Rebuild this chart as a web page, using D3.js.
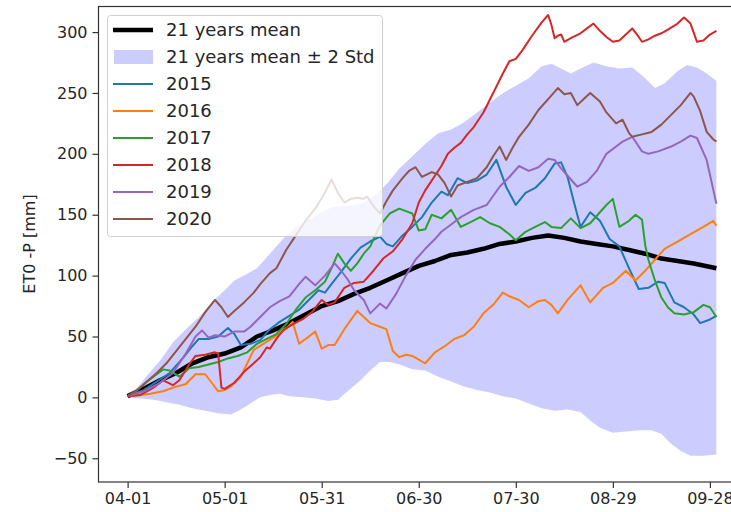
<!DOCTYPE html>
<html>
<head>
<meta charset="utf-8">
<script src="https://cdn.jsdelivr.net/npm/d3@7"></script>
<style>
  body { margin: 0; background: #fff; }
  text { font-family: "DejaVu Sans", sans-serif; fill: #262626; }
</style>
</head>
<body>
<div id="chart"></div>
<script>
// values, [days since 04-01, mm]
const tickLabels = ["04-01", "05-01", "05-31", "06-30", "07-30", "08-29", "09-28"];
const yTicks = [-50, 0, 50, 100, 150, 200, 250, 300];
const years = ["2015", "2016", "2017", "2018", "2019", "2020"];
const yearColors = ["#1f77b4", "#ff7f0e", "#2ca02c", "#d62728", "#9467bd", "#8c564b"];

const mean = [[0,1],[5,7],[10,14],[15,20],[20,28],[25,33],[30,36],[35,41],[40,50],[45,55],[50,61],[55,68],[60,75],[65,79],[70,85],[75,90],[80,96],[85,102],[90,108],[95,112],[100,117],[105,119],[110,122],[115,126],[120,128],[125,131],[130,133],[135,131],[140,128],[145,126],[150,124],[155,121],[160,118],[165,114],[170,112],[175,110],[182,106]];

const upper = [[0,3],[3,8],[6,18],[10,30],[14,45],[18,56],[22,66],[26,78],[30,88],[33,96],[36,100],[40,106],[44,118],[48,130],[52,140],[56,146],[60,152],[63,156],[66,157],[70,158],[73,160],[76,165],[80,175],[84,188],[88,198],[92,208],[96,217],[100,220],[104,226],[108,234],[112,242],[116,250],[120,256],[124,262],[128,272],[131,274],[134,270],[137,266],[140,270],[144,275],[148,272],[152,270],[156,271],[160,262],[163,254],[166,258],[170,268],[173,273],[176,271],[179,266],[182,260]];

const lower = [[0,0],[4,-1],[8,-2],[12,-4],[16,-6],[20,-9],[24,-11],[28,-13],[32,-14],[35,-10],[38,-5],[41,0],[44,2],[47,3],[50,1],[54,0],[58,-1],[62,-3],[65,-2],[68,5],[72,14],[75,22],[78,29],[81,29],[84,27],[88,23],[92,22],[96,17],[100,13],[104,9],[108,6],[112,4],[116,1],[120,-1],[124,-5],[128,-9],[132,-11],[136,-10],[140,-12],[143,-19],[146,-25],[150,-29],[154,-28],[158,-27],[162,-27],[165,-30],[168,-38],[171,-44],[174,-48],[178,-48],[182,-47]];

const y2015 = [[0,1],[5,6],[9,13],[13,20],[17,32],[20,42],[22,48],[25,48],[28,50],[31,57],[33,52],[35,43],[38,44],[41,47],[44,56],[47,62],[50,67],[53,72],[56,80],[59,88],[61,86],[63,93],[66,103],[69,114],[72,123],[75,128],[78,132],[80,126],[82,124],[85,133],[88,140],[91,148],[94,160],[97,169],[99,166],[102,180],[105,176],[108,178],[111,183],[114,195],[117,173],[120,158],[123,168],[126,172],[129,180],[132,192],[134,193],[136,181],[138,160],[140,140],[143,152],[146,145],[149,130],[152,124],[155,106],[158,89],[161,90],[164,95],[166,94],[169,78],[172,74],[175,68],[177,61],[180,64],[182,67]];

const y2016 = [[0,1],[4,2],[7,3],[11,5],[14,8],[18,11],[21,19],[24,19],[26,12],[28,5],[30,6],[32,9],[35,17],[37,28],[39,39],[42,44],[45,49],[48,54],[51,62],[53,44],[55,48],[58,54],[60,40],[62,43],[64,43],[67,56],[71,71],[73,66],[75,61],[78,58],[80,56],[82,38],[84,33],[86,35],[88,34],[90,31],[92,28],[95,37],[98,42],[101,48],[104,51],[107,58],[110,69],[113,76],[116,86],[118,83],[121,80],[124,74],[127,79],[129,80],[131,76],[133,69],[136,80],[140,92],[143,78],[147,90],[150,94],[154,104],[157,96],[160,104],[163,113],[166,122],[170,128],[174,134],[178,140],[181,145],[182,141]];

const y2017 = [[0,1],[3,6],[6,13],[9,19],[11,23],[13,22],[16,17],[19,24],[22,25],[25,27],[28,29],[31,32],[34,34],[37,37],[40,44],[43,48],[46,52],[49,60],[52,72],[55,82],[58,88],[61,95],[63,106],[65,118],[67,110],[69,104],[71,110],[73,118],[75,124],[78,141],[81,151],[84,155],[86,153],[88,151],[90,137],[92,138],[94,150],[97,147],[100,154],[103,140],[106,144],[109,148],[112,143],[115,140],[118,134],[120,129],[123,136],[126,140],[129,144],[131,140],[134,139],[137,147],[140,139],[143,143],[146,152],[148,158],[150,163],[152,140],[155,145],[157,150],[159,146],[160,125],[161,113],[163,96],[165,82],[167,74],[169,69],[172,68],[175,70],[178,76],[180,74],[182,66]];

const y2018 = [[0,1],[4,2],[8,8],[11,14],[14,10],[16,14],[19,27],[21,34],[24,35],[27,37],[28,36],[29,8],[30,7],[33,12],[36,21],[39,28],[41,33],[43,41],[44,40],[46,48],[48,55],[51,60],[54,64],[57,70],[60,80],[62,76],[64,78],[67,90],[70,94],[73,95],[76,104],[79,114],[82,120],[85,130],[88,143],[90,160],[92,170],[95,182],[97,190],[99,200],[101,205],[103,209],[105,216],[107,222],[110,234],[113,250],[116,266],[118,276],[120,278],[122,285],[125,297],[128,308],[130,314],[131,306],[132,295],[133,297],[134,298],[135,292],[137,295],[140,299],[142,303],[144,307],[146,301],[148,296],[150,292],[152,293],[154,298],[156,303],[158,296],[159,292],[161,294],[163,297],[165,299],[167,302],[170,307],[172,312],[174,307],[176,292],[178,293],[180,298],[182,301]];

const y2019 = [[0,1],[5,5],[10,12],[14,20],[18,36],[21,50],[23,55],[25,49],[27,51],[30,50],[33,54],[36,54],[38,58],[41,66],[44,74],[47,79],[50,83],[53,93],[55,99],[58,92],[61,100],[64,110],[66,104],[68,97],[70,88],[73,80],[75,69],[78,77],[80,73],[83,85],[86,100],[89,113],[92,122],[95,130],[97,136],[100,142],[103,148],[107,154],[111,158],[115,173],[118,181],[121,190],[124,186],[127,189],[130,196],[132,195],[134,188],[136,182],[139,173],[142,177],[145,186],[148,200],[151,206],[153,210],[156,214],[159,202],[161,200],[164,202],[168,206],[171,210],[174,215],[176,213],[179,195],[182,159]];

const y2020 = [[0,1],[3,6],[6,13],[9,20],[12,28],[15,38],[18,48],[21,58],[24,70],[27,80],[29,74],[31,66],[33,71],[36,78],[39,86],[41,93],[44,102],[46,106],[49,121],[52,133],[55,145],[58,155],[61,168],[63,179],[65,168],[67,160],[69,163],[71,164],[73,163],[74,165],[76,157],[78,151],[80,161],[82,170],[85,180],[87,186],[89,189],[91,181],[94,185],[96,183],[98,176],[100,165],[102,174],[105,177],[108,180],[111,189],[113,198],[115,206],[117,195],[119,205],[121,214],[124,224],[127,236],[130,245],[133,254],[135,249],[137,250],[139,240],[141,245],[143,250],[146,243],[148,234],[151,225],[153,228],[155,217],[156,214],[159,216],[162,218],[165,224],[168,232],[171,240],[174,250],[175,247],[177,235],[179,218],[181,212],[182,210]];

const yearSeries = [y2015, y2016, y2017, y2018, y2019, y2020];

const width = 731, height = 512;
const start = new Date(2021, 3, 1);
const dayDate = d => d3.timeDay.offset(start, d);
const parseTick = d3.timeParse("%Y-%m-%d");

const svg = d3.select("#chart").append("svg")
  .attr("width", width)
  .attr("height", height);

// matplotlib keeps a 5% margin round the data
const x = d3.scaleTime()
  .domain([d3.timeDay.offset(start, -9), d3.timeDay.offset(start, 191)])
  .range([98.5, 745.5]);

const y = d3.scaleLinear()
  .domain([-69.5, 321])
  .range([482, 6.5]);

const line = d3.line()
  .x(d => x(dayDate(d[0])))
  .y(d => y(d[1]));

// band: upper edge forward, lower edge back
svg.append("path")
  .attr("d", line(upper.concat(lower.slice().reverse())) + "Z")
  .attr("fill", "#0000ff")
  .attr("fill-opacity", 0.2)
  .attr("stroke", "none");

svg.append("path")
  .attr("d", line(mean))
  .attr("fill", "none")
  .attr("stroke", "#000")
  .attr("stroke-width", 4.5)
  .attr("stroke-linejoin", "round");

svg.selectAll(".year")
  .data(yearSeries)
  .enter()
  .append("path")
  .attr("class", "year")
  .attr("d", d => line(d))
  .attr("fill", "none")
  .attr("stroke", (d, i) => yearColors[i])
  .attr("stroke-width", 2)
  .attr("stroke-linejoin", "round");

// axes
const xAxis = svg.append("g")
  .attr("transform", "translate(0,482)")
  .call(d3.axisBottom(x)
    .tickValues(tickLabels.map(t => parseTick("2021-" + t)))
    .tickFormat(d3.timeFormat("%m-%d"))
    .tickSize(6)
    .tickPadding(5));

const yAxis = svg.append("g")
  .attr("transform", "translate(98.5,0)")
  .call(d3.axisLeft(y)
    .tickValues(yTicks)
    .tickFormat(d => d < 0 ? "\u2212" + Math.abs(d) : d)
    .tickSize(6)
    .tickPadding(5));

[xAxis, yAxis].forEach(g => {
  g.select(".domain").remove();
  g.selectAll(".tick line").attr("stroke", "#333").attr("stroke-width", 1.2);
  g.selectAll(".tick text").attr("font-size", 16).attr("fill", "#262626")
    .style("font-family", "'DejaVu Sans', sans-serif");
});

// spines
svg.append("rect")
  .attr("x", 98.5)
  .attr("y", 6.5)
  .attr("width", 647)
  .attr("height", 475.5)
  .attr("fill", "none")
  .attr("stroke", "#333")
  .attr("stroke-width", 1.2);

svg.append("text")
  .attr("transform", "translate(35,244) rotate(-90)")
  .attr("text-anchor", "middle")
  .attr("font-size", 16)
  .text("ET0 -P [mm]");

// legend
const legend = svg.append("g");
legend.append("rect")
  .attr("x", 107.5)
  .attr("y", 15.5)
  .attr("width", 275)
  .attr("height", 221)
  .attr("rx", 3)
  .attr("fill", "#fff")
  .attr("fill-opacity", 0.8)
  .attr("stroke", "#d0d0d0");

const legendItems = [
  { label: "21 years mean", kind: "mean" },
  { label: "21 years mean \u00b1 2 Std", kind: "band" }
].concat(years.map((yr, i) => ({ label: yr, kind: "line", color: yearColors[i] })));

const rows = legend.selectAll(".entry")
  .data(legendItems)
  .enter()
  .append("g")
  .attr("class", "entry")
  .attr("transform", (d, i) => `translate(0,${30 + i * 27})`);

rows.filter(d => d.kind === "band").append("rect")
  .attr("x", 114)
  .attr("y", -7)
  .attr("width", 39)
  .attr("height", 14)
  .attr("fill", "#0000ff")
  .attr("fill-opacity", 0.2);

rows.filter(d => d.kind !== "band").append("line")
  .attr("x1", 113)
  .attr("x2", 153)
  .attr("stroke", d => d.kind === "mean" ? "#000" : d.color)
  .attr("stroke-width", d => d.kind === "mean" ? 4.5 : 2);

rows.append("text")
  .attr("x", 166)
  .attr("dy", "0.35em")
  .attr("font-size", 18)
  .text(d => d.label);
</script>
</body>
</html>
